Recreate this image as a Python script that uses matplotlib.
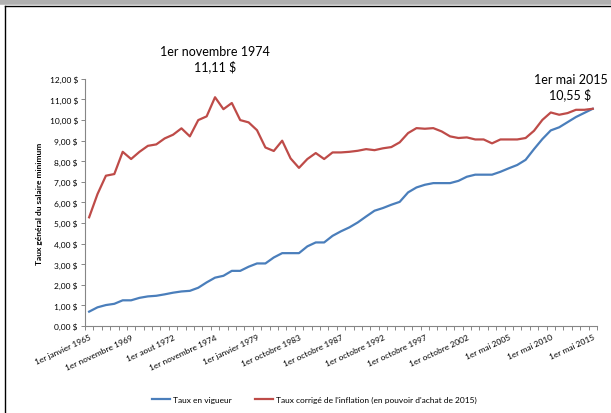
import numpy as np
import matplotlib
matplotlib.use("Agg")
from matplotlib import pyplot as plt
from matplotlib.lines import Line2D

plt.rcParams['font.family'] = ['Lato', 'DejaVu Sans']

# taux en vigueur ($/h), 61 hausses successives
taux_vigueur = [0.70, 0.91, 1.02, 1.08, 1.25, 1.25, 1.37, 1.44, 1.47, 1.54,
                1.62, 1.68, 1.71, 1.86, 2.12, 2.35, 2.44, 2.68, 2.68, 2.88,
                3.04, 3.04, 3.33, 3.54, 3.54, 3.54, 3.87, 4.06, 4.06, 4.38,
                4.60, 4.79, 5.03, 5.32, 5.60, 5.73, 5.89, 6.03, 6.49, 6.73,
                6.86, 6.94, 6.94, 6.94, 7.05, 7.25, 7.35, 7.35, 7.35, 7.49,
                7.66, 7.82, 8.07, 8.59, 9.08, 9.50, 9.65, 9.90, 10.15, 10.35,
                10.55]

# taux corrigé de l'inflation (pouvoir d'achat de 2015)
taux_corrige = [5.28, 6.41, 7.30, 7.38, 8.46, 8.11, 8.46, 8.75, 8.82, 9.11,
                9.29, 9.60, 9.21, 10.00, 10.18, 11.11, 10.53, 10.83, 10.00, 9.89,
                9.51, 8.67, 8.50, 9.00, 8.14, 7.68, 8.11, 8.40, 8.11, 8.43,
                8.43, 8.46, 8.51, 8.59, 8.54, 8.63, 8.69, 8.92, 9.37, 9.61,
                9.58, 9.61, 9.45, 9.21, 9.13, 9.16, 9.06, 9.06, 8.87, 9.06,
                9.06, 9.06, 9.13, 9.48, 10.01, 10.37, 10.26, 10.34, 10.50, 10.50,
                10.55]

tick_labels = ["1er janvier 1965", "1er novembre 1969", "1er aout 1972",
               "1er novembre 1974", "1er janvier 1979", "1er octobre 1983",
               "1er octobre 1987", "1er octobre 1992", "1er octobre 1997",
               "1er octobre 2002", "1er mai 2005", "1er mai 2010", "1er mai 2015"]

blue = "#4A7EBB"
red = "#BE4B48"
grey = "#868686"

n = len(taux_vigueur)
x = np.arange(n)

fig = plt.figure(figsize=(6.11, 4.14), dpi=100)
ax = fig.add_axes([0.139, 0.210, 0.838, 0.597])

ax.plot(x, taux_vigueur, color=blue, lw=1.6, label="Taux en vigueur")
ax.plot(x, taux_corrige, color=red, lw=1.6,
        label="Taux corrigé de l'inflation (en pouvoir d'achat de 2015)")

ax.set_xlim(-0.5, n - 0.5)
ax.set_ylim(0, 12)
ax.set_yticks(np.arange(0, 13, 1))
ax.set_yticklabels([f"{v:.2f} $".replace(".", ",") for v in range(13)], fontsize=6)

ax.set_xticks(np.arange(0, n, 5))
ax.set_xticklabels(tick_labels, rotation=25, ha="right", rotation_mode="anchor",
                   fontsize=6)
ax.set_xticks(np.arange(-0.5, n, 1), minor=True)
ax.tick_params(axis="x", which="major", length=0, pad=5)
ax.tick_params(axis="x", which="minor", length=3, color=grey, width=0.7)
ax.tick_params(axis="y", length=3, color=grey, width=0.7, pad=2)

for s in ["top", "right"]:
    ax.spines[s].set_visible(False)
for s in ["left", "bottom"]:
    ax.spines[s].set_color(grey)
    ax.spines[s].set_linewidth(0.8)

ax.set_ylabel("Taux général du salaire minimum", fontsize=6, fontweight="bold",
              labelpad=5)

# annotations des points extrêmes
i_max = int(np.argmax(taux_corrige))
ax.annotate(f"{tick_labels[3]}\n{taux_corrige[i_max]:.2f} $".replace(".", ","),
            xy=(i_max, taux_corrige[i_max]), xytext=(0, 18), textcoords="offset points",
            ha="center", va="bottom", fontsize=9, linespacing=1.2)
ax.annotate(f"{tick_labels[-1]}\n{taux_corrige[-1]:.2f} $".replace(".", ","),
            xy=(n - 1, taux_corrige[-1]), xytext=(-16, 6), textcoords="offset points",
            ha="center", va="bottom", fontsize=9, linespacing=1.2)

fig.legend(loc="lower center", bbox_to_anchor=(0.514, 0.005), ncol=2, frameon=False,
           fontsize=6, handlelength=2.2, handletextpad=0.3, columnspacing=2.8)

# cadre du graphique
fig.add_artist(Line2D([0, 1], [0.993, 0.993], color="#b0b0b0", lw=4))
fig.add_artist(Line2D([0.009, 1], [0.983, 0.983], color="black", lw=1))
fig.add_artist(Line2D([0.009, 0.009], [0, 0.983], color="black", lw=1))

fig.savefig("out.png", dpi=100)
